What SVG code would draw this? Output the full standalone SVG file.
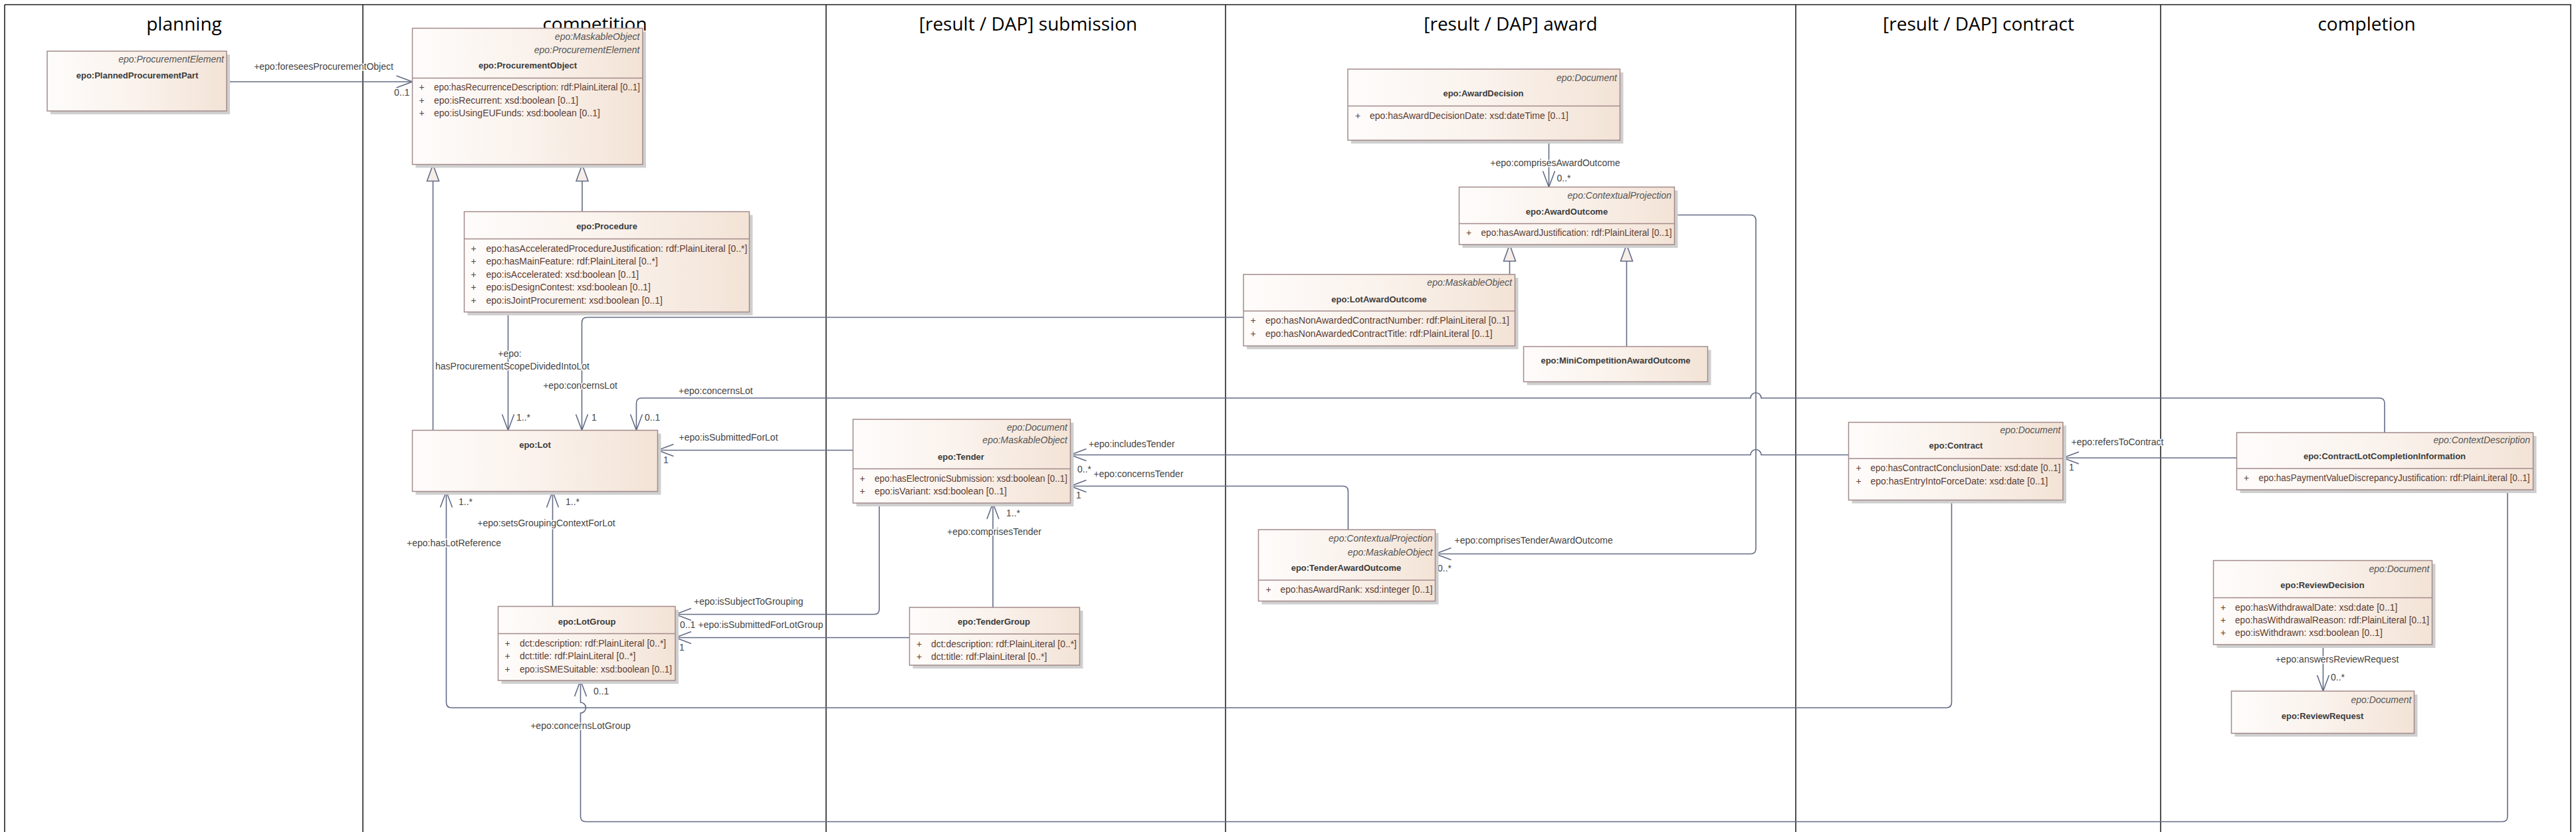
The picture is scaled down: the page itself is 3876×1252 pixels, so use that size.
<svg xmlns="http://www.w3.org/2000/svg" width="3876" height="1252" viewBox="0 0 3876 1252">
<defs>
<linearGradient id="g" x1="0" y1="0" x2="1" y2="0">
<stop offset="0" stop-color="#fefcfb"/>
<stop offset="0.5" stop-color="#faf2ec"/>
<stop offset="1" stop-color="#f3e3d6"/>
</linearGradient>
<marker id="open" markerUnits="userSpaceOnUse" markerWidth="30" markerHeight="24" viewBox="-27 -12 30 24" refX="0" refY="0" orient="auto">
<path d="M-24,-9 L0,0 L-24,9" fill="none" stroke="#636c86" stroke-width="1.6"/>
</marker>
<marker id="gen" markerUnits="userSpaceOnUse" markerWidth="30" markerHeight="24" viewBox="-27 -12 30 24" refX="0" refY="0" orient="auto">
<path d="M-25,-9 L0,0 L-25,9 Z" fill="#f6ede8" stroke="#636c86" stroke-width="1.6"/>
</marker>
<style>
.lane{stroke:#222;stroke-width:1.6;fill:none}
.hd{font-family:"Open Sans","Liberation Sans",sans-serif;font-size:28px;fill:#000;text-anchor:middle}
.sh{fill:#cfcfcf}
.box{fill:url(#g);stroke:#a38a8a;stroke-width:1.5}
.sep{stroke:#a38a8a;stroke-width:1.5}
.nm{font-family:"Liberation Sans",Arial,sans-serif;font-size:13px;font-weight:bold;fill:#3b3b3b;text-anchor:middle}
.st{font-family:"Liberation Sans",Arial,sans-serif;font-size:14px;font-style:italic;fill:#555;text-anchor:end}
.at{font-family:"Liberation Sans",Arial,sans-serif;font-size:14px;fill:#5c3d33}
.c path{fill:none;stroke:#636c86;stroke-width:1.6}
.lb{font-family:"Liberation Sans",Arial,sans-serif;font-size:14px;fill:#444;paint-order:stroke;stroke:#fff;stroke-width:3px;stroke-linejoin:round}
.m{text-anchor:middle}
</style>
</defs>
<rect x="0" y="0" width="3876" height="1252" fill="#fff"/>
<g id="lanes">
<line class="lane" x1="7" y1="7" x2="3869" y2="7" stroke-width="2.5"/>
<line class="lane" x1="7" y1="7" x2="7" y2="1252"/>
<line class="lane" x1="546" y1="7" x2="546" y2="1252"/>
<line class="lane" x1="1243" y1="7" x2="1243" y2="1252"/>
<line class="lane" x1="1844" y1="7" x2="1844" y2="1252"/>
<line class="lane" x1="2702" y1="7" x2="2702" y2="1252"/>
<line class="lane" x1="3251" y1="7" x2="3251" y2="1252"/>
<line class="lane" x1="3868" y1="7" x2="3868" y2="1252"/>
<text class="hd" x="277" y="46">planning</text>
<text class="hd" x="895" y="46">competition</text>
<text class="hd" x="1547" y="46">[result / DAP] submission</text>
<text class="hd" x="2273" y="46">[result / DAP] award</text>
<text class="hd" x="2977" y="46">[result / DAP] contract</text>
<text class="hd" x="3561" y="46">completion</text>
</g>
<g id="connectors" class="c">
<path d="M341,123 L620.5,123" marker-end="url(#open)"/>
<path d="M651.5,647.5 L651.5,247.5" marker-end="url(#gen)"/>
<path d="M876,318.5 L876,247.5" marker-end="url(#gen)"/>
<path d="M764.5,469.5 L764.5,647.5" marker-end="url(#open)"/>
<path d="M1871,477.5 L883.5,477.5 Q875.5,477.5 875.5,485.5 L875.5,647.5" marker-end="url(#open)"/>
<path d="M3588,651 L3588,607 Q3588,599 3580,599 L2650,599 A8,8 0 0 0 2634,599 L965.5,599 Q957.5,599 957.5,607 L957.5,647.5" marker-end="url(#open)"/>
<path d="M1283.5,677.5 L989.5,677.5" marker-end="url(#open)"/>
<path d="M831.5,912.5 L831.5,739.5" marker-end="url(#open)"/>
<path d="M2936.5,752.5 L2936.5,1057 Q2936.5,1065 2928.5,1065 L679.5,1065 Q671.5,1065 671.5,1057 L671.5,739.5" marker-end="url(#open)"/>
<path d="M1323,757 L1323,916.5 Q1323,924.5 1315,924.5 L1016,924.5" marker-end="url(#open)"/>
<path d="M1368.5,959.5 L1016,959.5" marker-end="url(#open)"/>
<path d="M3773,737 L3773,1228.5 Q3773,1236.5 3765,1236.5 L881.5,1236.5 Q873.5,1236.5 873.5,1228.5 L873.5,1073 A8,8 0 0 0 873.5,1057 L873.5,1024" marker-end="url(#open)"/>
<path d="M2781.5,684.5 L2650,684.5 A8,8 0 0 0 2634,684.5 L1610.5,684.5" marker-end="url(#open)"/>
<path d="M2028.5,797 L2028.5,739.5 Q2028.5,731.5 2020.5,731.5 L1610.5,731.5" marker-end="url(#open)"/>
<path d="M1494,914 L1494,757" marker-end="url(#open)"/>
<path d="M2330.5,211 L2330.5,281.5" marker-end="url(#open)"/>
<path d="M2271.5,413 L2271.5,368" marker-end="url(#gen)"/>
<path d="M2447.5,521.5 L2447.5,368" marker-end="url(#gen)"/>
<path d="M2519.5,323.5 L2634,323.5 Q2642,323.5 2642,331.5 L2642,825.5 Q2642,833.5 2634,833.5 L2159.5,833.5" marker-end="url(#open)"/>
<path d="M3365.5,689 L3104,689" marker-end="url(#open)"/>
<path d="M3495.5,970 L3495.5,1040" marker-end="url(#open)"/>
<text class="lb m" x="487" y="105">+epo:foreseesProcurementObject</text>
<text class="lb" x="593" y="144">0..1</text>
<text class="lb m" x="767" y="537">+epo:</text>
<text class="lb m" x="771" y="556">hasProcurementScopeDividedIntoLot</text>
<text class="lb" x="777" y="633">1..*</text>
<text class="lb m" x="873" y="585">+epo:concernsLot</text>
<text class="lb" x="890" y="633">1</text>
<text class="lb" x="1021" y="593">+epo:concernsLot</text>
<text class="lb" x="970" y="633">0..1</text>
<text class="lb" x="1021.5" y="663">+epo:isSubmittedForLot</text>
<text class="lb" x="998" y="697">1</text>
<text class="lb" x="690" y="760">1..*</text>
<text class="lb" x="851" y="760">1..*</text>
<text class="lb m" x="822" y="792">+epo:setsGroupingContextForLot</text>
<text class="lb m" x="683" y="822">+epo:hasLotReference</text>
<text class="lb" x="1044" y="910">+epo:isSubjectToGrouping</text>
<text class="lb" x="1023" y="945">0..1</text>
<text class="lb" x="1050.5" y="945">+epo:isSubmittedForLotGroup</text>
<text class="lb" x="1022" y="979">1</text>
<text class="lb" x="893" y="1045">0..1</text>
<text class="lb m" x="873.5" y="1097">+epo:concernsLotGroup</text>
<text class="lb" x="1638" y="673">+epo:includesTender</text>
<text class="lb" x="1621" y="711">0..*</text>
<text class="lb" x="1645.5" y="718">+epo:concernsTender</text>
<text class="lb" x="1619" y="750">1</text>
<text class="lb" x="1514" y="777">1..*</text>
<text class="lb m" x="1496" y="805">+epo:comprisesTender</text>
<text class="lb m" x="2340" y="250">+epo:comprisesAwardOutcome</text>
<text class="lb" x="2342.5" y="273">0..*</text>
<text class="lb" x="2188.5" y="817.5">+epo:comprisesTenderAwardOutcome</text>
<text class="lb" x="2163" y="860">0..*</text>
<text class="lb" x="3116.5" y="670">+epo:refersToContract</text>
<text class="lb" x="3113" y="708">1</text>
<text class="lb m" x="3516.5" y="997">+epo:answersReviewRequest</text>
<text class="lb" x="3507" y="1024">0..*</text>
</g>
<g id="n-plannedprocurementpart">
<rect class="sh" x="76" y="82" width="270" height="90"/>
<rect class="box" x="71" y="77" width="270" height="90"/>
<text class="st" x="337" y="94">epo:ProcurementElement</text>
<text class="nm" x="206.5" y="118">epo:PlannedProcurementPart</text>
</g>
<g id="n-procurementobject">
<rect class="sh" x="625.5" y="47.5" width="346.5" height="205"/>
<rect class="box" x="620.5" y="42.5" width="346.5" height="205"/>
<line class="sep" x1="620.5" y1="117.5" x2="967" y2="117.5"/>
<text class="st" x="962.5" y="60">epo:MaskableObject</text>
<text class="st" x="962.5" y="79.5">epo:ProcurementElement</text>
<text class="nm" x="794" y="103">epo:ProcurementObject</text>
<text class="at" x="630.5" y="136">+</text><text class="at" x="653" y="136" textLength="310" lengthAdjust="spacingAndGlyphs">epo:hasRecurrenceDescription: rdf:PlainLiteral [0..1]</text>
<text class="at" x="630.5" y="155.5">+</text><text class="at" x="653" y="155.5">epo:isRecurrent: xsd:boolean [0..1]</text>
<text class="at" x="630.5" y="175">+</text><text class="at" x="653" y="175">epo:isUsingEUFunds: xsd:boolean [0..1]</text>
</g>
<g id="n-procedure">
<rect class="sh" x="703.5" y="323.5" width="429" height="151"/>
<rect class="box" x="698.5" y="318.5" width="429" height="151"/>
<line class="sep" x1="698.5" y1="359.5" x2="1127.5" y2="359.5"/>
<text class="nm" x="913" y="345">epo:Procedure</text>
<text class="at" x="708.5" y="378.5">+</text><text class="at" x="731.5" y="378.5" textLength="393" lengthAdjust="spacingAndGlyphs">epo:hasAcceleratedProcedureJustification: rdf:PlainLiteral [0..*]</text>
<text class="at" x="708.5" y="398">+</text><text class="at" x="731.5" y="398">epo:hasMainFeature: rdf:PlainLiteral [0..*]</text>
<text class="at" x="708.5" y="417.5">+</text><text class="at" x="731.5" y="417.5">epo:isAccelerated: xsd:boolean [0..1]</text>
<text class="at" x="708.5" y="437">+</text><text class="at" x="731.5" y="437">epo:isDesignContest: xsd:boolean [0..1]</text>
<text class="at" x="708.5" y="456.5">+</text><text class="at" x="731.5" y="456.5">epo:isJointProcurement: xsd:boolean [0..1]</text>
</g>
<g id="n-lot">
<rect class="sh" x="625.5" y="652.5" width="369" height="92"/>
<rect class="box" x="620.5" y="647.5" width="369" height="92"/>
<text class="nm" x="805" y="673.5">epo:Lot</text>
</g>
<g id="n-lotgroup">
<rect class="sh" x="754.5" y="917.5" width="266.5" height="111.5"/>
<rect class="box" x="749.5" y="912.5" width="266.5" height="111.5"/>
<line class="sep" x1="749.5" y1="953.5" x2="1016" y2="953.5"/>
<text class="nm" x="883" y="940">epo:LotGroup</text>
<text class="at" x="759.5" y="972.5">+</text><text class="at" x="782" y="972.5">dct:description: rdf:PlainLiteral [0..*]</text>
<text class="at" x="759.5" y="992">+</text><text class="at" x="782" y="992">dct:title: rdf:PlainLiteral [0..*]</text>
<text class="at" x="759.5" y="1011.5">+</text><text class="at" x="782" y="1011.5" textLength="229" lengthAdjust="spacingAndGlyphs">epo:isSMESuitable: xsd:boolean [0..1]</text>
</g>
<g id="n-tender">
<rect class="sh" x="1288.5" y="636" width="327" height="126"/>
<rect class="box" x="1283.5" y="631" width="327" height="126"/>
<line class="sep" x1="1283.5" y1="705.5" x2="1610.5" y2="705.5"/>
<text class="st" x="1606" y="647.5">epo:Document</text>
<text class="st" x="1606" y="667">epo:MaskableObject</text>
<text class="nm" x="1446" y="692">epo:Tender</text>
<text class="at" x="1293.5" y="724.5">+</text><text class="at" x="1316" y="724.5" textLength="290" lengthAdjust="spacingAndGlyphs">epo:hasElectronicSubmission: xsd:boolean [0..1]</text>
<text class="at" x="1293.5" y="744">+</text><text class="at" x="1316" y="744">epo:isVariant: xsd:boolean [0..1]</text>
</g>
<g id="n-tendergroup">
<rect class="sh" x="1373.5" y="919" width="256" height="87"/>
<rect class="box" x="1368.5" y="914" width="256" height="87"/>
<line class="sep" x1="1368.5" y1="954" x2="1624.5" y2="954"/>
<text class="nm" x="1495.5" y="940">epo:TenderGroup</text>
<text class="at" x="1379" y="973.5">+</text><text class="at" x="1401" y="973.5" textLength="219" lengthAdjust="spacingAndGlyphs">dct:description: rdf:PlainLiteral [0..*]</text>
<text class="at" x="1379" y="993">+</text><text class="at" x="1401" y="993">dct:title: rdf:PlainLiteral [0..*]</text>
</g>
<g id="n-awarddecision">
<rect class="sh" x="2033" y="109" width="409.5" height="107"/>
<rect class="box" x="2028" y="104" width="409.5" height="107"/>
<line class="sep" x1="2028" y1="159.5" x2="2437.5" y2="159.5"/>
<text class="st" x="2433" y="121.5">epo:Document</text>
<text class="nm" x="2232" y="145">epo:AwardDecision</text>
<text class="at" x="2039" y="178.5">+</text><text class="at" x="2061" y="178.5">epo:hasAwardDecisionDate: xsd:dateTime [0..1]</text>
</g>
<g id="n-awardoutcome">
<rect class="sh" x="2200.5" y="286.5" width="324" height="86.5"/>
<rect class="box" x="2195.5" y="281.5" width="324" height="86.5"/>
<line class="sep" x1="2195.5" y1="336.5" x2="2519.5" y2="336.5"/>
<text class="st" x="2515" y="298.5">epo:ContextualProjection</text>
<text class="nm" x="2357.5" y="322.5">epo:AwardOutcome</text>
<text class="at" x="2206" y="355">+</text><text class="at" x="2228.5" y="355" textLength="287" lengthAdjust="spacingAndGlyphs">epo:hasAwardJustification: rdf:PlainLiteral [0..1]</text>
</g>
<g id="n-lotawardoutcome">
<rect class="sh" x="1876" y="418" width="408.5" height="107.5"/>
<rect class="box" x="1871" y="413" width="408.5" height="107.5"/>
<line class="sep" x1="1871" y1="468" x2="2279.5" y2="468"/>
<text class="st" x="2275" y="430">epo:MaskableObject</text>
<text class="nm" x="2075" y="454.5">epo:LotAwardOutcome</text>
<text class="at" x="1881.5" y="487">+</text><text class="at" x="1904" y="487" textLength="367" lengthAdjust="spacingAndGlyphs">epo:hasNonAwardedContractNumber: rdf:PlainLiteral [0..1]</text>
<text class="at" x="1881.5" y="507">+</text><text class="at" x="1904" y="507">epo:hasNonAwardedContractTitle: rdf:PlainLiteral [0..1]</text>
</g>
<g id="n-minicompetitionawardoutcome">
<rect class="sh" x="2297.5" y="526.5" width="277" height="53"/>
<rect class="box" x="2292.5" y="521.5" width="277" height="53"/>
<text class="nm" x="2431" y="547">epo:MiniCompetitionAwardOutcome</text>
</g>
<g id="n-tenderawardoutcome">
<rect class="sh" x="1898.5" y="802" width="266" height="107.5"/>
<rect class="box" x="1893.5" y="797" width="266" height="107.5"/>
<line class="sep" x1="1893.5" y1="873" x2="2159.5" y2="873"/>
<text class="st" x="2155.5" y="815">epo:ContextualProjection</text>
<text class="st" x="2155.5" y="835.5">epo:MaskableObject</text>
<text class="nm" x="2025.5" y="858.5">epo:TenderAwardOutcome</text>
<text class="at" x="1904.5" y="891.5">+</text><text class="at" x="1926.5" y="891.5" textLength="229" lengthAdjust="spacingAndGlyphs">epo:hasAwardRank: xsd:integer [0..1]</text>
</g>
<g id="n-contract">
<rect class="sh" x="2786.5" y="640.5" width="322.5" height="117"/>
<rect class="box" x="2781.5" y="635.5" width="322.5" height="117"/>
<line class="sep" x1="2781.5" y1="690" x2="3104" y2="690"/>
<text class="st" x="3100.5" y="652">epo:Document</text>
<text class="nm" x="2943" y="675">epo:Contract</text>
<text class="at" x="2792.5" y="708.5">+</text><text class="at" x="2814.5" y="708.5" textLength="286" lengthAdjust="spacingAndGlyphs">epo:hasContractConclusionDate: xsd:date [0..1]</text>
<text class="at" x="2792.5" y="728.5">+</text><text class="at" x="2814.5" y="728.5">epo:hasEntryIntoForceDate: xsd:date [0..1]</text>
</g>
<g id="n-contractlotcompletioninformation">
<rect class="sh" x="3370.5" y="656" width="446" height="86"/>
<rect class="box" x="3365.5" y="651" width="446" height="86"/>
<line class="sep" x1="3365.5" y1="705" x2="3811.5" y2="705"/>
<text class="st" x="3807" y="667">epo:ContextDescription</text>
<text class="nm" x="3588" y="691">epo:ContractLotCompletionInformation</text>
<text class="at" x="3376" y="723.5">+</text><text class="at" x="3398.5" y="723.5" textLength="408" lengthAdjust="spacingAndGlyphs">epo:hasPaymentValueDiscrepancyJustification: rdf:PlainLiteral [0..1]</text>
</g>
<g id="n-reviewdecision">
<rect class="sh" x="3335.5" y="848.5" width="329" height="126.5"/>
<rect class="box" x="3330.5" y="843.5" width="329" height="126.5"/>
<line class="sep" x1="3330.5" y1="899.5" x2="3659.5" y2="899.5"/>
<text class="st" x="3655.5" y="861">epo:Document</text>
<text class="nm" x="3494.5" y="885">epo:ReviewDecision</text>
<text class="at" x="3341" y="918.5">+</text><text class="at" x="3363" y="918.5">epo:hasWithdrawalDate: xsd:date [0..1]</text>
<text class="at" x="3341" y="937.5">+</text><text class="at" x="3363" y="937.5" textLength="292" lengthAdjust="spacingAndGlyphs">epo:hasWithdrawalReason: rdf:PlainLiteral [0..1]</text>
<text class="at" x="3341" y="957">+</text><text class="at" x="3363" y="957">epo:isWithdrawn: xsd:boolean [0..1]</text>
</g>
<g id="n-reviewrequest">
<rect class="sh" x="3362.5" y="1045" width="275" height="63.5"/>
<rect class="box" x="3357.5" y="1040" width="275" height="63.5"/>
<text class="st" x="3628.5" y="1057.5">epo:Document</text>
<text class="nm" x="3494.5" y="1082">epo:ReviewRequest</text>
</g>
</svg>
